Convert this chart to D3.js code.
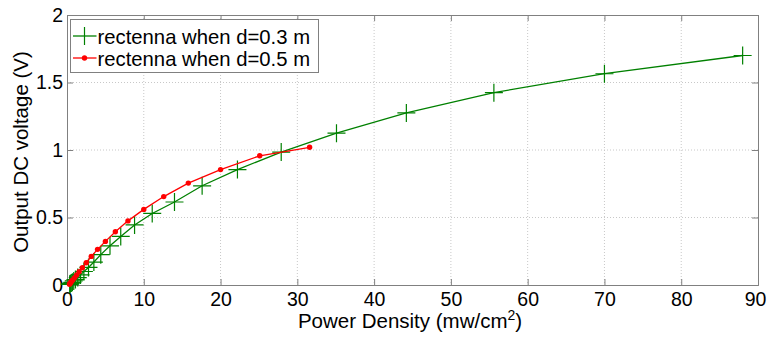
<!DOCTYPE html>
<html><head><meta charset="utf-8">
<script src="https://cdn.jsdelivr.net/npm/d3@7"></script>
<style>body{margin:0;background:#fff}svg{display:block}text{font-family:"Liberation Sans",Arial,sans-serif}</style>
</head><body><svg id="c" width="767" height="338"></svg>
<script>
const xTicks = [0,10,20,30,40,50,60,70,80,90];
const yTicks = [0,0.5,1,1.5,2];
const yTickLabels = ["0","0.5","1","1.5","2"];
const seriesNames = ["rectenna when d=0.3 m","rectenna when d=0.5 m"];
const greenX = [88,70,55.6,44.2,35.1,27.9,22.2,17.6,14.0,11.1,8.8,7.0,5.6,4.4,3.5,2.8,2.2,1.76,1.4,1.1,0.88,0.7,0.56,0.44,0.35];
const greenY = [1.70,1.565,1.425,1.275,1.125,0.985,0.855,0.735,0.615,0.53,0.445,0.36,0.29,0.225,0.17,0.13,0.10,0.075,0.055,0.04,0.03,0.02,0.015,0.01,0.005];
const redX = [31.6,25.1,20.0,15.8,12.6,10.0,7.94,6.3,5.0,3.98,3.16,2.51,2.0,1.58,1.26,1.0,0.79,0.63,0.5,0.4,0.32];
const redY = [1.02,0.957,0.855,0.755,0.655,0.56,0.475,0.395,0.323,0.264,0.212,0.165,0.128,0.098,0.074,0.055,0.04,0.03,0.02,0.012,0.006];

const svg = d3.select("#c");
const L=67,R=758,T=15,B=285;
const x = d3.scaleLinear().domain([0,90]).range([L,R]);
const y = d3.scaleLinear().domain([0,2]).range([B,T]);
const g = svg.append("g");
g.selectAll(".gx").data(xTicks.slice(1,-1)).enter().append("line")
 .attr("x1",d=>x(d)).attr("x2",d=>x(d)).attr("y1",T).attr("y2",B)
 .attr("stroke","#c8c8c8").attr("stroke-width",1).attr("stroke-dasharray","1,2");
g.selectAll(".gy").data(yTicks.slice(1,-1)).enter().append("line")
 .attr("y1",d=>y(d)).attr("y2",d=>y(d)).attr("x1",L).attr("x2",R)
 .attr("stroke","#c8c8c8").attr("stroke-width",1).attr("stroke-dasharray","1,2");
const ax = d3.axisBottom(x).tickValues(xTicks).tickSize(-6).tickPadding(7).tickFormat(d3.format("d"));
const ay = d3.axisLeft(y).tickValues(yTicks).tickSize(-6).tickPadding(4).tickFormat((d,i)=>yTickLabels[i]);
const axT = d3.axisTop(x).tickValues(xTicks).tickSize(-6).tickFormat("");
const ayR = d3.axisRight(y).tickValues(yTicks).tickSize(-6).tickFormat("");
function style(sel){sel.selectAll("path").attr("stroke","#808080");sel.selectAll("line").attr("stroke","#808080");
 sel.selectAll("text").attr("fill","#000").style("font-size","19.5px").style("font-family","'Liberation Sans',Arial,sans-serif");}
const gx = svg.append("g").attr("transform",`translate(0,${B})`).call(ax).call(style);
gx.selectAll(".tick text").filter(d=>d===90).attr("dx",-3);
svg.append("g").attr("transform",`translate(${L},0)`).call(ay).call(style);
svg.append("g").attr("transform",`translate(0,${T})`).call(axT).call(style);
svg.append("g").attr("transform",`translate(${R},0)`).call(ayR).call(style);

const green = greenX.map((v,i)=>[v,greenY[i]]);
const red = redX.map((v,i)=>[v,redY[i]]);
const line = d3.line().x(d=>x(d[0])).y(d=>y(d[1]));
const GC="#008000", RC="#ff0000";
svg.append("path").attr("d",line(green)).attr("fill","none").attr("stroke",GC).attr("stroke-width",1.3);
svg.append("g").selectAll("path").data(green).enter().append("path")
 .attr("d",d=>{const cx=x(d[0]),cy=y(d[1]),h=9;return `M${cx-h},${cy}H${cx+h}M${cx},${cy-h}V${cy+h}`;})
 .attr("stroke",GC).attr("stroke-width",1.2).attr("fill","none");
svg.append("path").attr("d",line(red)).attr("fill","none").attr("stroke",RC).attr("stroke-width",1.3);
svg.append("g").selectAll("circle").data(red).enter().append("circle")
 .attr("cx",d=>x(d[0])).attr("cy",d=>y(d[1])).attr("r",2.7).attr("fill",RC);

const lg = svg.append("g");
lg.append("rect").attr("x",70.5).attr("y",19.5).attr("width",248).attr("height",53).attr("fill","#fff").attr("stroke","#808080").attr("stroke-width",1);
const ly=[36,58], cols=[GC,RC];
ly.forEach((yy,i)=>{
 lg.append("line").attr("x1",73).attr("x2",96.5).attr("y1",yy).attr("y2",yy).attr("stroke",cols[i]).attr("stroke-width",1.3);
 if(i===0) lg.append("line").attr("x1",84.5).attr("x2",84.5).attr("y1",yy-9).attr("y2",yy+9).attr("stroke",GC).attr("stroke-width",1.2);
 else lg.append("circle").attr("cx",84.5).attr("cy",yy).attr("r",2.7).attr("fill",RC);
 lg.append("text").attr("x",97.5).attr("y",yy+7.5).style("font-size","20.3px").text(seriesNames[i]);
});
const xt = svg.append("text").attr("x",410).attr("y",328).attr("text-anchor","middle").style("font-size","20.5px");
xt.append("tspan").text("Power Density (mw/cm");
xt.append("tspan").attr("dy",-8).style("font-size","14px").text("2");
xt.append("tspan").attr("dy",8).text(")");
svg.append("text").attr("transform","translate(28,152) rotate(-90)").attr("text-anchor","middle").style("font-size","20.5px").text("Output DC voltage (V)");
</script></body></html>
